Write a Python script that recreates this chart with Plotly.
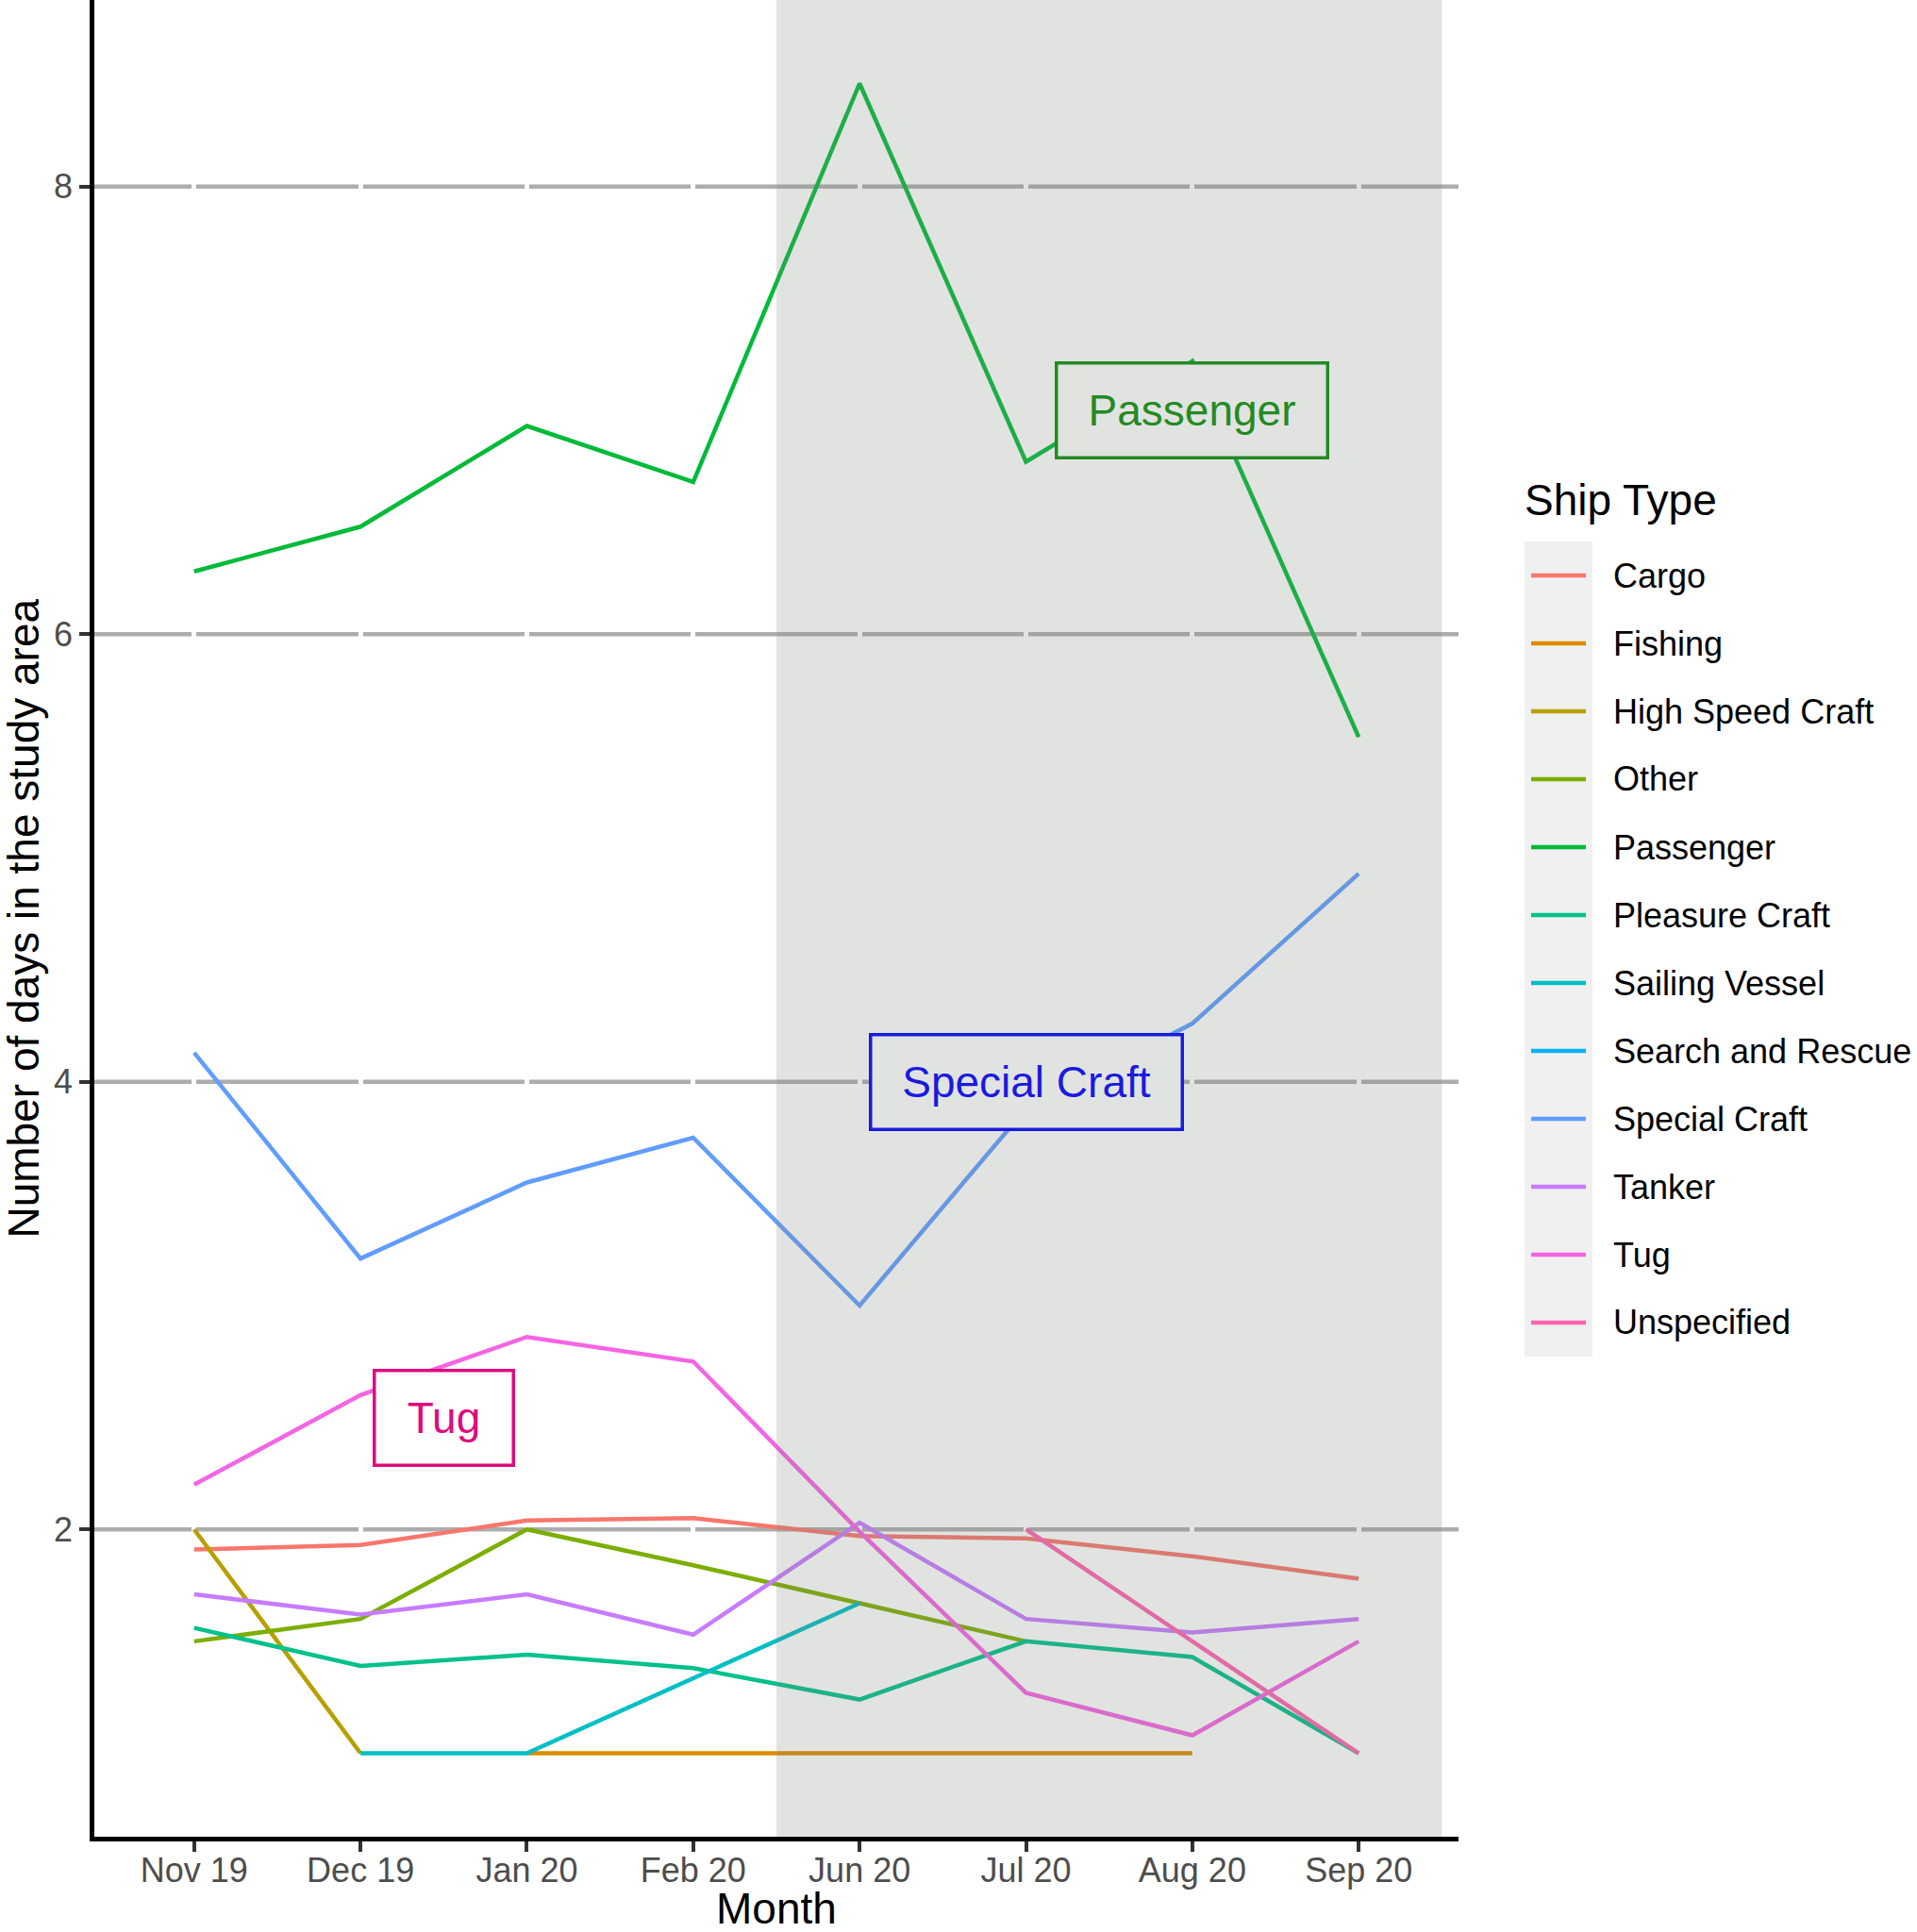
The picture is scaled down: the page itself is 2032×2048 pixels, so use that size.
import plotly.graph_objects as go

months = ["Nov 19", "Dec 19", "Jan 20", "Feb 20", "Jun 20", "Jul 20", "Aug 20", "Sep 20"]

ship_types = ["Cargo", "Fishing", "High Speed Craft", "Other", "Passenger", "Pleasure Craft",
              "Sailing Vessel", "Search and Rescue", "Special Craft", "Tanker", "Tug", "Unspecified"]
colours = ["#F8766D", "#DE8C00", "#B79F00", "#7CAE00", "#00BA38", "#00C08B",
           "#00BFC4", "#00B4F0", "#619CFF", "#C77CFF", "#F564E3", "#FF64B0"]

# days in the study area, one value per month (None = no record)
cargo = [1.91, 1.93, 2.04, 2.05, 1.97, 1.96, 1.88, 1.78]
fishing = [None, None, 1.0, 1.0, 1.0, 1.0, 1.0, None]
high_speed_craft = [2.0, 1.0, None, None, None, None, None, None]
other = [1.50, 1.60, 2.0, 1.84, 1.67, 1.50, None, None]
passenger = [6.28, 6.48, 6.93, 6.68, 8.46, 6.77, 7.22, 5.54]
pleasure_craft = [1.56, 1.39, 1.44, 1.38, 1.24, 1.50, 1.43, 1.0]
sailing_vessel = [None, 1.0, 1.0, None, 1.67, None, None, None]
search_and_rescue = [None, None, None, None, None, None, None, None]
special_craft = [4.13, 3.21, 3.55, 3.75, 3.0, 3.88, 4.26, 4.93]
tanker = [1.71, 1.62, 1.71, 1.53, 2.03, 1.60, 1.54, 1.60]
tug = [2.20, 2.60, 2.86, 2.75, 1.99, 1.27, 1.08, 1.50]
unspecified = [None, None, None, None, None, 2.0, 1.5, 1.0]

series = [cargo, fishing, high_speed_craft, other, passenger, pleasure_craft,
          sailing_vessel, search_and_rescue, special_craft, tanker, tug, unspecified]

y_ticks = [2, 4, 6, 8]

# labelled lines
label_text = ["Passenger", "Special Craft", "Tug"]
label_x = [6, 5, 1.5]
label_y = [7.0, 4.0, 2.5]

FONT = "Liberation Sans"
W, H = 2032, 2048
L, R, T, B = 100, 486, 0, 101
PW, PH = W - L - R, H - T - B

def px(x):
    return (x - L) / PW

def py(y):
    return (PH + T - y) / PH

fig = go.Figure()

for name, vals, c in zip(ship_types, series, colours):
    fig.add_trace(go.Scatter(x=months, y=vals, mode="lines", name=name, connectgaps=True,
                             line=dict(color=c, width=4.5), showlegend=False, hoverinfo="skip"))

all_vals = [v for s in series for v in s if v is not None]
lo, hi = min(all_vals), max(all_vals)
pad = (hi - lo) * 0.05
x_lo, x_hi = -0.6, len(months) - 0.4

shapes = []
# grey horizontal grid lines, under the white vertical grid of the x axis
for t in y_ticks:
    shapes.append(dict(type="line", xref="x", yref="y", x0=x_lo, x1=x_hi, y0=t, y1=t,
                       line=dict(color="#ADADAD", width=4.5), layer="below"))

# shaded period, drawn over the lines
shapes.append(dict(type="rect", xref="x", yref="paper", x0=3.5, x1=7.5, y0=0, y1=1,
                   fillcolor="#7F857F", opacity=0.23, line=dict(width=0), layer="above"))

annotations = []
label_styles = [
    dict(font_color="#248A24", bg="#E1E3E1", w=284, h=97),
    dict(font_color="#1A1ADF", bg="#E1E3E1", w=327, h=97),
    dict(font_color="#DE0B7C", bg="white", w=144, h=97),
]
for txt, lx, ly, st in zip(label_text, label_x, label_y, label_styles):
    annotations.append(dict(x=lx, y=ly, xref="x", yref="y", text=txt, showarrow=False,
                            font=dict(family=FONT, size=46, color=st["font_color"]),
                            bgcolor=st["bg"], bordercolor=st["font_color"], borderwidth=3.5,
                            borderpad=0, width=st["w"], height=st["h"], align="center",
                            valign="middle"))

# axis titles
annotations.append(dict(x=0.5, y=py(H), xref="paper", yref="paper", text="Month",
                        showarrow=False, xanchor="center", yanchor="bottom",
                        height=48, valign="middle", borderpad=0,
                        font=dict(family=FONT, size=46, color="black")))
annotations.append(dict(x=px(24), y=0.5, xref="paper", yref="paper",
                        text="Number of days in the study area", textangle=-90,
                        showarrow=False, xanchor="center", yanchor="middle",
                        font=dict(family=FONT, size=46, color="black")))

# legend, ggplot style
annotations.append(dict(x=px(1614), y=py(530), xref="paper", yref="paper", text="Ship Type",
                        showarrow=False, xanchor="left", yanchor="middle",
                        font=dict(family=FONT, size=46, color="black")))
shapes.append(dict(type="rect", xref="paper", yref="paper", x0=px(1616), x1=px(1688),
                   y0=py(574 + 72 * len(ship_types)), y1=py(574), fillcolor="#F0F0F0",
                   line=dict(width=0), layer="above"))
for i, (name, c) in enumerate(zip(ship_types, colours)):
    yy = 610 + 72 * i
    shapes.append(dict(type="line", xref="paper", yref="paper", x0=px(1623), x1=px(1681),
                       y0=py(yy), y1=py(yy), line=dict(color=c, width=4.5), layer="above"))
    annotations.append(dict(x=px(1708), y=py(yy), xref="paper", yref="paper", text=name,
                            showarrow=False, xanchor="left", yanchor="middle",
                            font=dict(family=FONT, size=36, color="black")))

fig.update_layout(
    width=W, height=H,
    margin=dict(l=L, r=R, t=T, b=B, autoexpand=False),
    plot_bgcolor="white", paper_bgcolor="white",
    font=dict(family=FONT, color="black"),
    shapes=shapes, annotations=annotations,
    showlegend=False,
)

fig.update_xaxes(type="category", categoryorder="array", categoryarray=months,
                 range=[x_lo, x_hi], showgrid=True, gridcolor="white", gridwidth=5,
                 zeroline=False, automargin=False,
                 showline=True, linecolor="black", linewidth=4.5,
                 ticks="outside", ticklen=11, tickwidth=4, tickcolor="#333333",
                 ticklabelstandoff=-11,
                 tickfont=dict(family=FONT, size=36, color="#4D4D4D"))

fig.update_yaxes(range=[lo - pad, hi + pad], tickvals=y_ticks, showgrid=False,
                 zeroline=False, automargin=False,
                 showline=True, linecolor="black", linewidth=4.5,
                 ticks="outside", ticklen=11, tickwidth=4, tickcolor="#333333",
                 tickfont=dict(family=FONT, size=36, color="#4D4D4D"))

fig.write_html("out.html", config={"displayModeBar": False},
               post_script="document.body.style.margin='0';")
